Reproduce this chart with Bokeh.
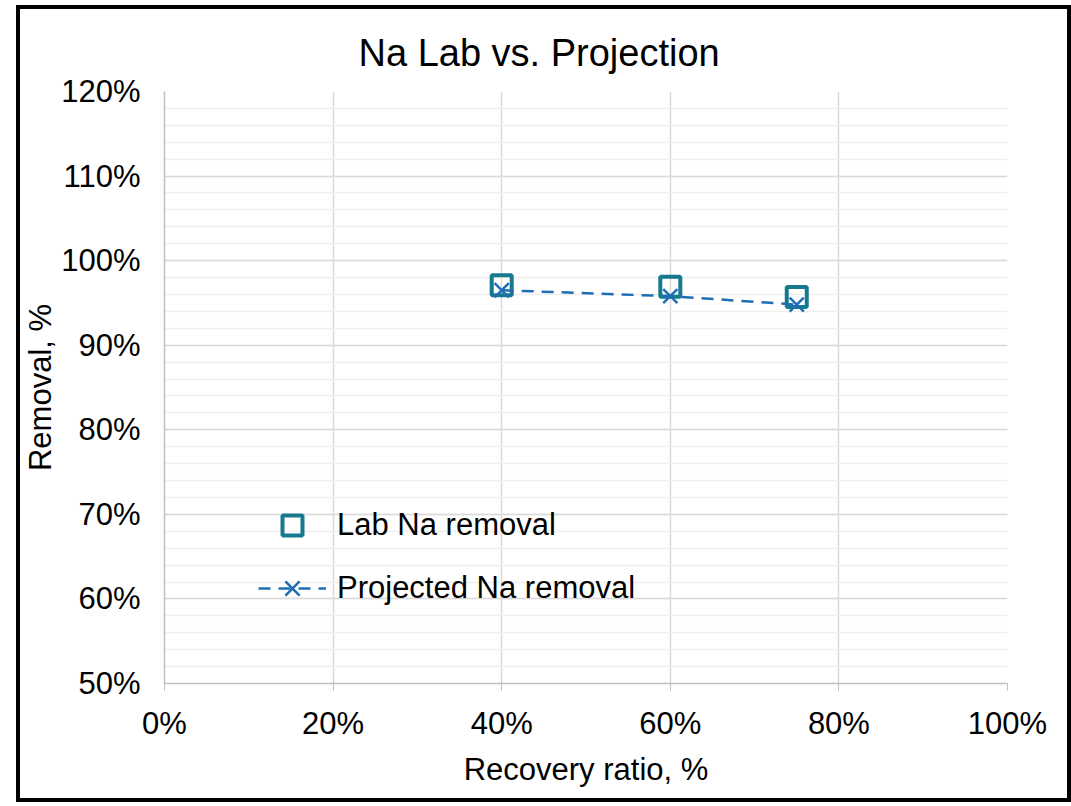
from bokeh.plotting import figure
from bokeh.models import SingleIntervalTicker, PrintfTickFormatter, Legend, LegendItem, Range1d
from bokeh.embed import file_html
from bokeh.resources import INLINE

recovery = [40, 60, 75]
lab_removal = [97.1, 96.9, 95.7]
projected_removal = [96.5, 95.8, 94.8]

FONT = "Liberation Sans"

p = figure(width=1055, height=797, output_backend="svg", toolbar_location=None,
           x_range=Range1d(0, 100), y_range=Range1d(50, 120),
           min_border_left=140, min_border_right=68, min_border_top=82, min_border_bottom=123)
p.styles = {"border": "4px solid black", "margin-left": "16px", "margin-top": "5px"}

p.title.text = "Na Lab vs. Projection"
p.title.align = "left"
p.title.text_font = FONT
p.title.text_font_size = "38px"
p.title.text_font_style = "normal"
p.title.text_color = "black"
p.title.offset = 194
p.title.standoff = 36

p.outline_line_color = None

xt = SingleIntervalTicker(interval=20, num_minor_ticks=0)
yt = SingleIntervalTicker(interval=10, num_minor_ticks=5)
p.xaxis.ticker = xt
p.yaxis.ticker = yt
p.xgrid.ticker = xt
p.ygrid.ticker = yt
p.xaxis.formatter = PrintfTickFormatter(format="%d%%")
p.yaxis.formatter = PrintfTickFormatter(format="%d%%")

for ax in (p.xaxis, p.yaxis):
    ax.axis_line_color = "#bfbfbf"
    ax.axis_line_width = 1.5
    ax.major_label_text_font = FONT
    ax.major_label_text_font_size = "31px"
    ax.major_label_text_color = "black"
    ax.axis_label_text_font = FONT
    ax.axis_label_text_font_size = "31px"
    ax.axis_label_text_font_style = "normal"
    ax.axis_label_text_color = "black"
    ax.minor_tick_line_color = None

p.xaxis.major_tick_line_color = "#bfbfbf"
p.xaxis.major_tick_in = 0
p.xaxis.major_tick_out = 7
p.xaxis.major_label_standoff = 15
p.xaxis.axis_label = "Recovery ratio, %"
p.xaxis.axis_label_standoff = 8

p.yaxis.major_tick_line_color = None
p.yaxis.major_label_standoff = 18
p.yaxis.axis_label = "Removal, %"
p.yaxis.axis_label_standoff = 0

p.xgrid.grid_line_color = "#d9d9d9"
p.ygrid.grid_line_color = "#d9d9d9"
p.ygrid.minor_grid_line_color = "#efefef"
p.xgrid.grid_line_width = 1.5
p.ygrid.grid_line_width = 1.5
p.ygrid.minor_grid_line_width = 1.5

lab = p.scatter(recovery, lab_removal, marker="square", size=20, line_width=4,
                line_color="#17798D", fill_color=None)
proj_line = p.line(recovery, projected_removal, line_color="#1F6DB3", line_width=2.5, line_dash="12 8")
proj_pts = p.scatter(recovery, projected_removal, marker="x", size=20, line_width=2.5,
                     line_color="#1F6DB3")

legend = Legend(items=[LegendItem(label="Lab Na removal", renderers=[lab]),
                       LegendItem(label="Projected Na removal", renderers=[proj_line, proj_pts])],
                location=(94, 70), border_line_color=None, background_fill_alpha=0,
                label_text_font=FONT, label_text_font_size="31px", label_text_color="black",
                glyph_width=68, glyph_height=50, spacing=13, label_standoff=11, padding=0, margin=0)
p.add_layout(legend)

open("out.html", "w").write(file_html(p, INLINE))
